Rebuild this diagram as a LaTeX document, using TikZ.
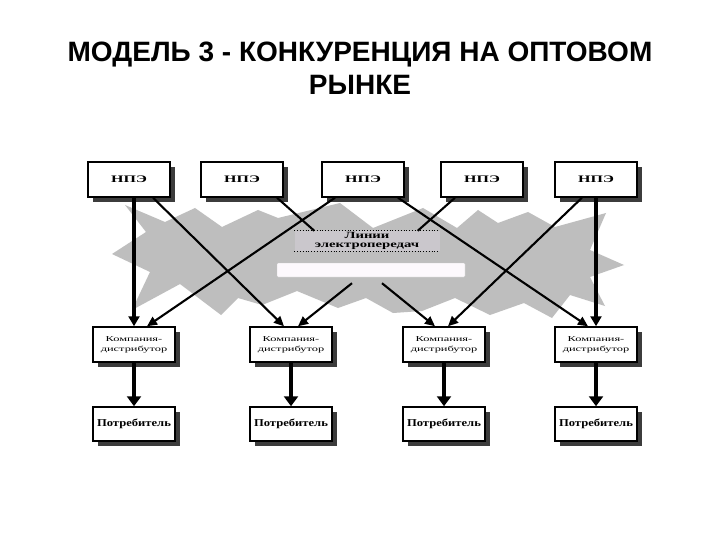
\documentclass[tikz,border=0pt]{standalone}
\usepackage{fontspec}
\setmainfont{Liberation Serif}
\newfontfamily\titlefont{Liberation Sans}
\usetikzlibrary{arrows.meta,shadows,calc}
\definecolor{stargray}{RGB}{190,190,190}
\definecolor{shadowgray}{RGB}{60,60,60}
\definecolor{labgray}{RGB}{202,199,204}
\definecolor{wbfill}{RGB}{253,249,253}
\begin{document}
\begin{tikzpicture}[x=1pt,y=-1pt,
  box/.style={draw=black, line width=1.5pt, fill=white, minimum width=82pt,
    minimum height=35pt, inner sep=0pt, align=center,
    drop shadow={shadow xshift=5pt, shadow yshift=-5pt, fill=shadowgray, opacity=1}},
  npe/.style={box, font=\fontsize{10}{12}\selectfont\bfseries},
  dist/.style={box, font=\fontsize{7.5}{10}\selectfont},
  cons/.style={box, minimum height=34pt, font=\fontsize{10.5}{12}\selectfont\bfseries},
  diag/.style={line width=2.1pt, -{Triangle[length=10pt,width=9pt]}},
  plainline/.style={line width=2.1pt},
  vert/.style={line width=3.4pt, -{Triangle[length=10pt,width=11pt]}},
  down/.style={line width=4.2pt, -{Triangle[length=10pt,width=14pt]}},
  titletext/.style={font=\titlefont\fontsize{28}{30}\selectfont\bfseries, anchor=base}
]
\useasboundingbox (0,0) rectangle (720,540);
\fill[white] (0,0) rectangle (720,540);

% title
\node[titletext] (t1line) at (360,62) {МОДЕЛЬ 3 - КОНКУРЕНЦИЯ НА ОПТОВОМ};
\node[titletext] (t2line) at (360,95) {РЫНКЕ};

% star (power lines)
\fill[stargray] (125,205) -- (165,222) -- (195,208) -- (222,227) -- (258,210)
  -- (278,218) -- (340,203) -- (373,228) -- (423,208) -- (457,228) -- (478,210)
  -- (498,223) -- (528,212) -- (555,227) -- (606,213) -- (590,250) -- (624,265)
  -- (590,277) -- (605,306) -- (570,295) -- (552,318) -- (524,303) -- (490,315)
  -- (455,298) -- (422,311) -- (393,313) -- (366,298) -- (338,308) -- (297,291)
  -- (262,305) -- (238,298) -- (221,315) -- (180,284) -- (132,310) -- (150,272)
  -- (112,254) -- (146,232) -- cycle;

% label
\node[fill=labgray, minimum width=145pt, minimum height=20pt, inner sep=0pt,
  align=center, font=\fontsize{9.5}{10}\selectfont\bfseries] (lab) at (367,241)
  {\scalebox{1.55}[1]{Линии}\\[-1pt]\scalebox{1.55}[1]{электропередач}};
\draw[dotted, line width=0.8pt] (lab.north west) -- (lab.north east);
\draw[dotted, line width=0.8pt] (lab.south west) -- (lab.south east);
\node[fill=wbfill, draw=gray!40, line width=0.4pt, rounded corners=1pt,
  minimum width=188pt, minimum height=14pt, inner sep=0pt] (wb) at (371,270) {};

% boxes
\node[npe] (t1) at (129,179.5) {\scalebox{1.6}[1]{НПЭ}};
\node[npe] (t2) at (242,179.5) {\scalebox{1.6}[1]{НПЭ}};
\node[npe] (t3) at (363,179.5) {\scalebox{1.6}[1]{НПЭ}};
\node[npe] (t4) at (482,179.5) {\scalebox{1.6}[1]{НПЭ}};
\node[npe] (t5) at (596,179.5) {\scalebox{1.6}[1]{НПЭ}};

\node[dist] (m1) at (134,344.5) {\scalebox{1.65}[1]{Компания-}\\\scalebox{1.65}[1]{дистрибутор}};
\node[dist] (m2) at (291,344.5) {\scalebox{1.65}[1]{Компания-}\\\scalebox{1.65}[1]{дистрибутор}};
\node[dist] (m3) at (444,344.5) {\scalebox{1.65}[1]{Компания-}\\\scalebox{1.65}[1]{дистрибутор}};
\node[dist] (m4) at (596,344.5) {\scalebox{1.65}[1]{Компания-}\\\scalebox{1.65}[1]{дистрибутор}};

\node[cons] (b1) at (134,424) {\scalebox{1.2}[1]{Потребитель}};
\node[cons] (b2) at (291,424) {\scalebox{1.2}[1]{Потребитель}};
\node[cons] (b3) at (444,424) {\scalebox{1.2}[1]{Потребитель}};
\node[cons] (b4) at (596,424) {\scalebox{1.2}[1]{Потребитель}};

% connectors top -> distributors
\draw[vert] (t1.south -| m1.north) -- (m1.north);
\draw[vert] (t5.south) -- (m4.north);
\draw[diag] ($(t1.south)+(24,0)$) -- ($(m2.north)+(-7,0)$);
\draw[plainline] ($(t2.south)+(35,0)$) -- ($(lab.north west)+(20,0)$);
\draw[diag] ($(t3.south)+(-28,0)$) -- ($(m1.north)+(13,0)$);
\draw[diag] ($(t3.south)+(35,0)$) -- ($(m4.north)+(-8,0)$);
\draw[plainline] ($(t4.south)+(-27,0)$) -- ($(lab.north east)+(-22,0)$);
\draw[diag] ($(t5.south)+(-14,0)$) -- ($(m3.north)+(4,0)$);
\draw[diag] ($(wb.south)+(-19,6)$) -- ($(m2.north)+(7,0)$);
\draw[diag] ($(wb.south)+(11,6)$) -- ($(m3.north)+(-9,0)$);

% distributors -> consumers
\draw[down] (m1.south) -- (b1.north);
\draw[down] (m2.south) -- (b2.north);
\draw[down] (m3.south) -- (b3.north);
\draw[down] (m4.south) -- (b4.north);
\end{tikzpicture}
\end{document}
